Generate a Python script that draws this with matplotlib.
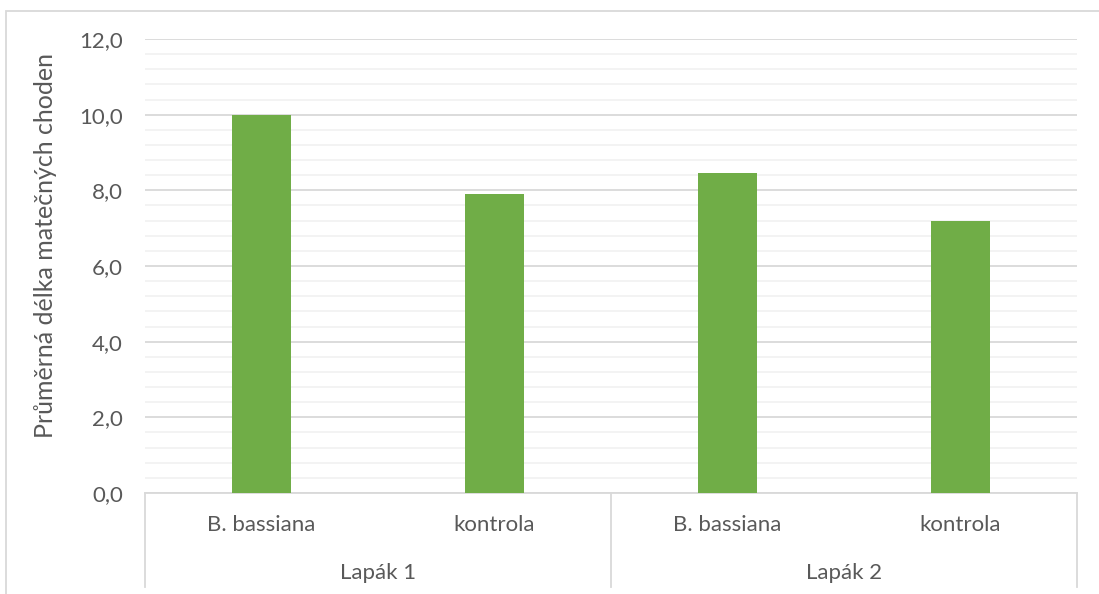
import matplotlib.pyplot as plt
from matplotlib.ticker import MultipleLocator, FuncFormatter
from matplotlib.patches import Rectangle

# average length per group
categories = ['B. bassiana', 'kontrola', 'B. bassiana', 'kontrola']
groups = ['Lapák 1', 'Lapák 2']
values = [10.0, 7.9, 8.46, 7.19]

bar_color = '#70AD47'
text_color = '#595959'
axis_line = '#D9D9D9'

plt.rcParams['font.family'] = ['Lato', 'DejaVu Sans']

fig = plt.figure(figsize=(10.99, 5.94), dpi=100)
ax = fig.add_axes([145 / 1099, 1 - 493 / 594, (1077 - 145) / 1099, (493 - 39) / 594])

x = list(range(len(categories)))
ax.bar(x, values, width=0.25, color=bar_color, zorder=3)

ax.set_xlim(-0.5, len(categories) - 0.5)
ax.set_ylim(0, 12)
ax.yaxis.set_major_locator(MultipleLocator(2))
ax.yaxis.set_minor_locator(MultipleLocator(0.4))
ax.yaxis.set_major_formatter(FuncFormatter(lambda v, p: f'{v:.1f}'.replace('.', ',')))
ax.grid(axis='y', which='major', color='#D9D9D9', linewidth=1.3, zorder=0)
ax.grid(axis='y', which='minor', color='#F2F2F2', linewidth=1.3, zorder=0)
ax.tick_params(axis='y', which='both', length=0, labelsize=16, labelcolor=text_color, pad=16)
ax.set_xticks([])

for s in ['top', 'right', 'left']:
    ax.spines[s].set_visible(False)
ax.spines['bottom'].set_color(axis_line)
ax.spines['bottom'].set_linewidth(1.3)

# two-level category axis: labels, group labels and separators
trans = ax.get_xaxis_transform()
h = 493 - 39
bottom = -(587 - 493) / h
for xs in [-0.5, 1.5, 3.5]:
    ax.plot([xs, xs], [0, bottom], transform=trans, color=axis_line,
            linewidth=1.3, clip_on=False)
for i, c in enumerate(categories):
    ax.text(x[i], -(525 - 493) / h, c, transform=trans,
            ha='center', va='center', fontsize=16, color=text_color)
for i, g in enumerate(groups):
    ax.text(2 * i + 0.5, -(573 - 493) / h, g, transform=trans,
            ha='center', va='center', fontsize=16, color=text_color)

fig.text(46 / 1099, 1 - 246 / 594, 'Průměrná délka matečných choden', rotation=90,
         ha='center', va='center', fontsize=18, color=text_color)

# chart area border
fig.patches.append(Rectangle((6 / 1099, -0.1), 1.2, 1 - 11 / 594 + 0.1,
                             transform=fig.transFigure, fill=False,
                             edgecolor='#D9D9D9', linewidth=1.3))

fig.savefig('out.png', dpi=100)
